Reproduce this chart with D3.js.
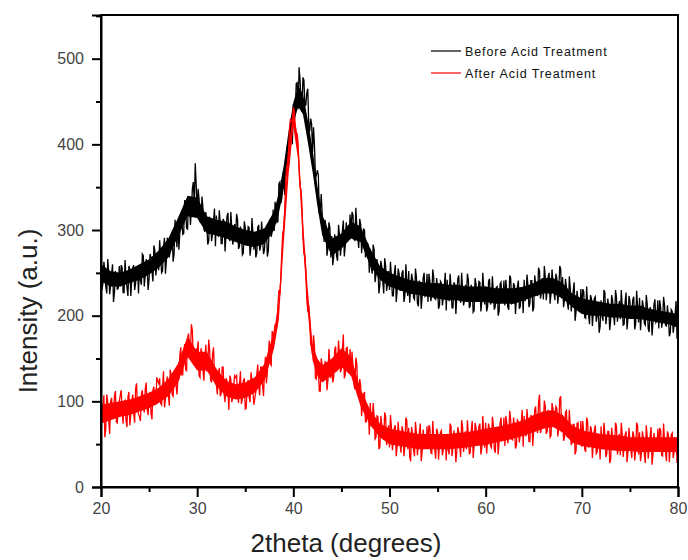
<!DOCTYPE html>
<html>
<head>
<meta charset="utf-8">
<script src="https://cdn.jsdelivr.net/npm/d3@7"></script>
<style>
  body { margin: 0; background: #fff; }
  svg { display: block; font-family: "Liberation Sans", Arial, sans-serif; }
</style>
</head>
<body>
<svg id="chart" width="688" height="560"></svg>
<script>
// XRD scan.
// *Even arrays: samples at 20.0, 20.2, ... 80.0
// *Odd arrays:  samples at 20.1, 20.3, ... 79.9
const twoThetaStart = 20;
const twoThetaStep = 0.1;

const beforeEven = [
  264,238,252,226,251,235,260,227,242,232,
  234,256,227,246,223,255,242,259,238,255,
  259,236,270,247,257,243,268,240,276,258,
  253,271,252,291,264,287,276,298,272,296,
  312,297,313,296,328,301,333,324,356,378,
  318,336,313,326,298,308,287,312,296,325,
  317,293,308,284,310,295,320,287,301,289,
  291,312,281,298,273,303,288,303,281,296,
  298,273,306,281,291,277,302,276,313,299,
  299,323,310,356,337,368,366,399,385,420,
  447,438,472,490,450,478,445,460,425,430,
  391,398,364,364,322,319,286,302,279,303,
  293,269,286,264,294,283,311,282,300,291,
  295,318,288,305,279,307,289,300,272,282,
  278,249,277,248,254,236,257,226,258,238,
  230,245,223,259,230,249,235,253,223,241,
  252,231,242,219,245,211,237,223,250,225,
  216,240,225,244,219,232,212,238,221,250,
  242,218,234,209,236,222,247,215,230,218,
  220,242,212,230,206,237,223,239,216,232,
  234,210,243,218,226,211,234,205,239,219,
  212,228,207,244,215,235,221,241,211,231,
  242,223,235,214,241,209,236,223,252,228,
  219,245,230,250,226,239,218,244,227,255,
  245,219,233,207,232,216,239,205,218,206,
  207,228,197,214,190,220,206,222,200,180,
  218,194,227,201,210,195,218,189,222,203,
  196,212,190,227,198,217,203,222,191,210,
  221,200,211,189,214,181,206,192,219,194,
  185,209,194,212,188,200,180,205,189,217,
  190
];
const beforeOdd = [
  230,263,234,266,225,249,216,252,231,258,
  259,227,265,233,258,223,256,230,254,226,
  241,272,234,266,230,272,252,282,247,272,
  288,250,279,249,291,268,293,263,312,280,
  277,317,295,335,302,334,306,348,329,353,
  348,309,339,301,321,283,314,287,310,281,
  294,323,284,313,275,316,293,321,283,307,
  319,278,304,271,310,283,304,270,314,277,
  268,303,276,310,272,300,269,309,292,324,
  333,309,354,331,365,341,386,374,413,400,
  428,471,441,475,438,475,446,465,415,424,
  420,361,370,319,342,302,312,270,309,268,
  259,295,269,306,270,299,269,309,290,318,
  321,289,326,291,313,273,301,268,285,250,
  257,283,239,266,226,264,240,267,229,252,
  263,223,249,216,255,229,250,216,260,223,
  215,249,221,255,215,241,208,244,223,249,
  249,217,254,220,244,208,240,212,235,206,
  219,249,209,239,202,243,221,250,212,236,
  249,209,236,204,244,218,240,205,250,213,
  205,240,213,246,207,233,200,237,215,241,
  242,210,247,214,238,202,234,208,231,203,
  217,248,210,241,205,247,226,256,220,244,
  258,218,246,214,254,227,249,214,258,220,
  210,243,214,246,205,229,194,229,206,231,
  231,198,234,201,224,188,220,193,216,187,
  200,230,190,220,183,224,202,230,193,217,
  230,189,216,184,223,197,219,184,229,192,
  183,218,191,224,185,210,177,213,192,218,
  218,186,222,189,212,176,207,180,202,173
];

const afterEven = [
  74,91,58,108,79,100,86,106,76,96,
  107,88,99,78,105,72,99,86,115,91,
  82,108,94,114,91,105,86,113,98,128,
  121,98,116,93,122,110,137,108,126,119,
  126,154,131,156,138,173,161,190,149,160,
  157,130,162,138,149,135,172,125,155,131,
  119,131,106,140,109,127,112,130,99,118,
  128,108,119,97,124,91,118,105,134,111,
  104,131,118,140,119,136,121,153,144,182,
  180,182,212,225,274,301,355,378,418,427,
  442,420,413,368,347,294,271,220,212,167,
  154,164,126,139,112,142,128,145,125,144,
  149,128,164,141,152,138,178,131,163,141,
  130,141,114,144,107,119,98,111,76,91,
  98,75,83,58,82,47,71,55,82,56,
  46,70,54,72,48,60,40,65,49,78,
  69,30,61,36,63,49,74,42,56,45,
  47,69,39,57,33,64,50,66,44,60,
  62,38,71,47,56,41,64,35,70,51,
  44,60,40,77,48,69,55,74,45,64,
  75,56,67,46,72,40,66,53,81,57,
  48,74,59,79,55,69,49,76,61,90,
  83,60,76,53,81,68,94,63,108,69,
  72,94,65,84,60,91,77,92,69,106,
  84,58,89,62,69,52,73,42,75,55,
  47,62,41,77,48,67,53,72,41,60,
  71,51,61,39,65,32,58,43,71,46,
  37,62,46,65,41,54,34,60,43,72,
  64,40,56,28,59,45,70,38,53,42,
  44,66,36,54,30,61,47,63,41,57,
  48
];
const afterOdd = [
  76,107,68,99,62,104,82,112,75,100,
  113,74,101,70,111,85,108,75,121,85,
  77,113,87,122,84,111,79,117,97,124,
  127,96,135,103,129,95,130,106,132,108,
  126,163,131,167,135,179,157,183,142,161,
  170,128,155,124,166,140,160,122,163,121,
  108,139,109,140,99,124,90,126,104,130,
  130,98,135,103,127,92,125,99,123,96,
  111,143,107,140,106,152,135,171,142,176,
  190,190,230,244,296,318,372,392,430,428,
  440,410,398,350,328,272,252,205,196,162,
  177,127,148,112,150,123,146,113,161,127,
  122,160,135,171,134,160,127,162,139,161,
  158,120,151,110,126,83,108,76,94,61,
  71,98,56,83,44,83,59,87,49,72,
  84,43,69,36,76,49,71,36,81,44,
  35,70,43,76,37,63,30,67,45,71,
  72,40,77,44,68,32,64,37,60,31,
  44,74,36,66,29,70,48,78,41,65,
  78,39,66,34,75,49,71,38,83,46,
  39,74,48,82,44,70,38,75,55,81,
  83,51,89,56,81,45,78,52,75,47,
  61,91,53,84,48,90,69,99,63,88,
  101,62,90,58,98,72,94,59,103,64,
  54,87,58,90,49,73,38,74,52,77,
  77,44,81,47,71,34,66,39,61,32,
  45,75,35,65,28,69,47,75,38,62,
  75,35,61,29,69,43,65,31,75,38,
  30,65,38,72,33,59,26,63,42,68,
  69,37,74,41,65,29,61,34,57,28
];

// solid core of each trace (where the scan lines overlap completely)
const coreTheta = [
  20,21,22,23,24,25,26,27,28,29,30,31,32,33,34,35,36,37,38,
  38.5,39,39.5,40,40.5,41,41.5,42,42.5,43,
  44,45,46,47,48,49,50,51,52,53,54,55,56,57,58,59,60,61,62,
  63,64,65,66,67,68,69,70,71,72,73,74,75,76,77,78,79,80
];
const beforeLow = [
  240,234,234,238,242,248,256,268,292,316,314,296,294,290,286,282,280,284,300,
  320,348,388,424,444,435,403,368,328,294,
  270,278,290,286,258,242,234,230,226,224,222,220,218,218,216,216,216,214,214,
  214,218,222,226,226,220,210,202,200,200,198,198,196,196,194,192,190,186
];
const beforeHigh = [
  260,252,250,254,260,266,276,290,314,340,338,316,312,310,304,300,298,302,322,
  344,375,415,449,468,459,429,395,352,318,
  290,296,310,304,278,258,250,246,242,240,238,238,236,236,234,234,234,232,232,
  232,234,238,244,244,238,226,220,218,216,214,214,212,212,208,206,204,202
];
const afterLow = [
  74,78,82,84,88,92,98,106,122,152,136,136,118,106,102,104,110,124,162,
  196,284,364,420,382,284,204,148,130,122,
  130,140,130,94,72,58,50,48,46,44,44,44,44,45,46,48,49,52,54,
  57,60,64,68,70,64,52,48,46,44,43,42,42,41,41,41,41,41
];
const afterHigh = [
  96,98,100,102,106,110,116,126,144,176,158,158,138,124,120,122,128,144,182,
  218,316,396,440,406,311,231,167,150,142,
  150,162,152,114,90,74,68,66,64,62,62,62,62,63,64,66,68,70,72,
  75,78,84,88,90,84,72,66,64,62,61,60,58,58,58,58,58,58
];

const seriesNames = ["Before Acid Treatment", "After Acid Treatment"];
const seriesColors = ["#000000", "#ff0000"];
const xTicks = [20, 30, 40, 50, 60, 70, 80];
const yTicks = [0, 100, 200, 300, 400, 500];

const margin = { top: 15, right: 10, bottom: 73, left: 101 };
const width = 688 - margin.left - margin.right;
const height = 560 - margin.top - margin.bottom;

const svg = d3.select("#chart");
const g = svg.append("g").attr("transform", `translate(${margin.left},${margin.top})`);

const x = d3.scaleLinear().domain([20, 80]).range([0, width]);
const y = d3.scaleLinear().domain([0, 551]).range([height, 0]);

// merge the two sample sets back into scan order
function mergeScan(even, odd) {
  const pts = [];
  even.forEach((v, i) => {
    pts.push([twoThetaStart + 2 * i * twoThetaStep, v]);
    if (i < odd.length) pts.push([twoThetaStart + (2 * i + 1) * twoThetaStep, odd[i]]);
  });
  return pts;
}

const line = d3.line().x(d => x(d[0])).y(d => y(d[1]));
const band = d3.area().x(d => x(d.t)).y0(d => y(d.lo)).y1(d => y(d.hi));

const scans = [[beforeEven, beforeOdd], [afterEven, afterOdd]];
const cores = [[beforeLow, beforeHigh], [afterLow, afterHigh]];

scans.forEach(([ev, od], i) => {
  const [lo, hi] = cores[i];
  g.append("path")
    .datum(coreTheta.map((t, k) => ({ t, lo: lo[k], hi: hi[k] })))
    .attr("fill", seriesColors[i])
    .attr("d", band);
  g.append("path")
    .datum(mergeScan(ev, od))
    .attr("fill", "none")
    .attr("stroke", seriesColors[i])
    .attr("stroke-width", 1.3)
    .attr("d", line);
});

// frame
g.append("rect")
  .attr("width", width).attr("height", height)
  .attr("fill", "none").attr("stroke", "#000").attr("stroke-width", 2);

// axes: major + minor ticks
g.append("g").attr("transform", `translate(0,${height})`)
  .call(d3.axisBottom(x).tickValues(xTicks).tickSize(10).tickPadding(6).tickFormat(d3.format("d")));
g.append("g").attr("transform", `translate(0,${height})`)
  .call(d3.axisBottom(x).tickValues(d3.range(25, 80, 10)).tickSize(5).tickFormat(""))
  .call(a => a.select(".domain").remove());

g.append("g")
  .call(d3.axisLeft(y).tickValues(yTicks).tickSize(9).tickPadding(8));
g.append("g")
  .call(d3.axisLeft(y).tickValues(d3.range(50, 551, 100)).tickSize(5).tickFormat(""))
  .call(a => a.select(".domain").remove());

svg.selectAll(".tick line").attr("stroke", "#000").attr("stroke-width", 2);
svg.selectAll(".domain").attr("stroke", "#000").attr("stroke-width", 2);
svg.selectAll(".tick text").attr("fill", "#444").style("font-size", "16px");

// axis titles
svg.append("text")
  .attr("x", 346).attr("y", 552)
  .attr("text-anchor", "middle")
  .attr("fill", "#222")
  .style("font-size", "26px")
  .text("2theta (degrees)");

svg.append("text")
  .attr("transform", "translate(37,311) rotate(-90)")
  .attr("text-anchor", "middle")
  .attr("fill", "#222")
  .style("font-size", "26px")
  .text("Intensity (a.u.)");

// legend
const legend = svg.append("g").attr("transform", "translate(431,51)");
seriesNames.forEach((name, i) => {
  const row = legend.append("g").attr("transform", `translate(0,${i * 22})`);
  row.append("line")
    .attr("x1", 0).attr("x2", 30)
    .attr("stroke", seriesColors[i]).attr("stroke-width", 1.2);
  row.append("text")
    .attr("x", 34).attr("y", 4.5)
    .attr("fill", "#111")
    .style("font-size", "12.5px")
    .style("letter-spacing", "0.9px")
    .text(name);
});
</script>
</body>
</html>
